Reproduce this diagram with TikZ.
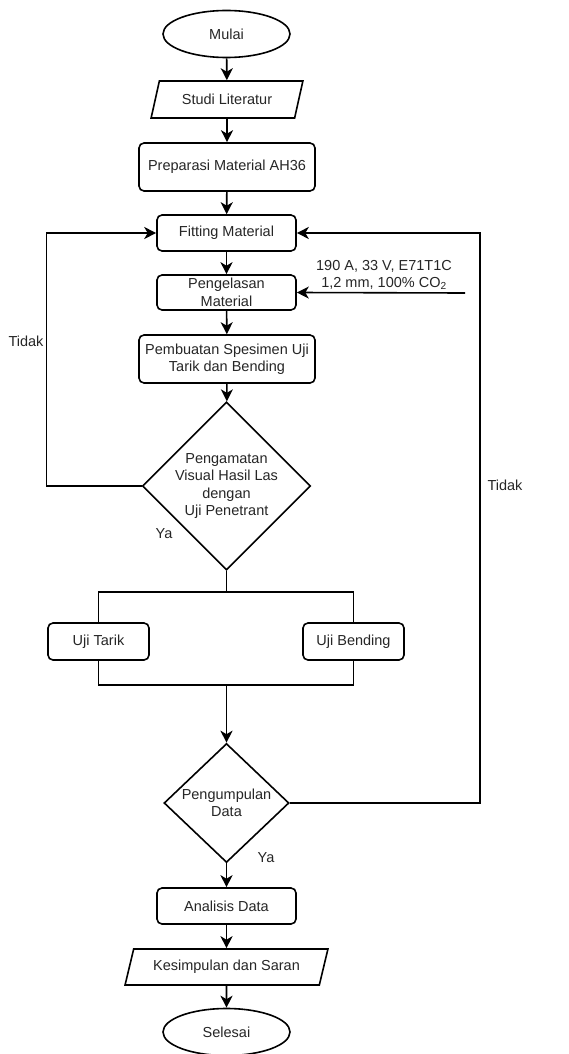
\documentclass[tikz,border=0pt]{standalone}
\usepackage{fontspec}
\setmainfont{Liberation Sans}
\usetikzlibrary{shapes.geometric,arrows.meta,calc}
\tikzset{
  every node/.style={font=\fontsize{14.5}{17.5}\selectfont, text=black!85},
  base/.style={draw=black, line width=1.6pt, fill=white, inner sep=1pt, align=center},
  term/.style={base, ellipse, minimum width=127pt, minimum height=47pt},
  io/.style={base, trapezium, trapezium left angle=66, trapezium right angle=114,
    trapezium stretches=true},
  proc/.style={base, rectangle, rounded corners=5pt},
  dec/.style={base, diamond},
  lbl/.style={inner sep=0pt},
  conn/.style={line width=1.6pt, draw=black},
  arr/.style={conn, -{Stealth[length=12pt,width=12pt,inset=3.5pt]}},
}
\begin{document}
\begin{tikzpicture}[x=1pt,y=-1pt]
\useasboundingbox (0,0) rectangle (569,1054);
\node[term] (mulai) at (226.5,34) {Mulai};
\node[io, minimum width=152pt, minimum height=37pt] (studi) at (227,99.5) {Studi Literatur};
\node[proc, minimum width=176pt, minimum height=48pt] (prep) at (227,167) {Preparasi Material AH36};
\node[proc, minimum width=139pt, minimum height=36pt] (fit) at (226.5,233) {Fitting Material};
\node[proc, minimum width=139pt, minimum height=35pt] (las) at (226.5,292.5) {Pengelasan\\Material};
\node[proc, minimum width=176pt, minimum height=48pt] (spes) at (227,359) {Pembuatan Spesimen Uji\\Tarik dan Bending};
\node[dec, minimum width=160pt, minimum height=155pt, inner sep=0pt] (vis) at (226.5,486) {Pengamatan\\Visual Hasil Las\\dengan\\Uji Penetrant};
\node[proc, minimum width=101pt, minimum height=37pt] (tarik) at (98.5,641.5) {Uji Tarik};
\node[proc, minimum width=101pt, minimum height=37pt] (bend) at (353.5,641.5) {Uji Bending};
\node[dec, minimum width=125pt, minimum height=119pt, inner sep=0pt] (kumpul) at (226.5,803) {Pengumpulan\\Data};
\node[proc, minimum width=139pt, minimum height=36pt] (anal) at (226.5,906) {Analisis Data};
\node[io, minimum width=203pt, minimum height=36pt] (kes) at (226.5,967) {Kesimpulan dan Saran};
\node[term] (sel) at (226.5,1032) {Selesai};

\node[lbl, align=center] (param) at (384,275) {190 A, 33 V, E71T1C\\1,2 mm, 100\% CO\textsubscript{2}};
\node[lbl] (tidak1) at (26,341) {Tidak};
\node[lbl] (tidak2) at (505,485) {Tidak};
\node[lbl] (ya1) at (164,534) {Ya};
\node[lbl] (ya2) at (266,858) {Ya};

\coordinate (src) at (465,293);
\coordinate (splittop) at (226.5,592);
\coordinate (splitbot) at (226.5,685);

\draw[arr] (mulai) -- (studi);
\draw[arr] (studi) -- (prep);
\draw[arr] (prep) -- (fit);
\draw[arr] (fit) -- (las);
\draw[arr] (src) -- (las.east);
\draw[arr] (las) -- (spes);
\draw[arr] (spes) -- (vis);
\draw[arr] (vis.west) -- ++(-95,0) |- (fit.west);
\draw[conn] (vis.south) -- (splittop);
\draw[conn] (tarik.north) |- (splittop);
\draw[conn] (bend.north) |- (splittop);
\draw[conn] (tarik.south) |- (splitbot);
\draw[conn] (bend.south) |- (splitbot);
\draw[arr] (splitbot) -- (kumpul.north);
\draw[arr] (kumpul.east) -- ++(190,0) |- (fit.east);
\draw[arr] (kumpul) -- (anal);
\draw[arr] (anal) -- (kes);
\draw[arr] (kes) -- (sel);
\end{tikzpicture}
\end{document}
